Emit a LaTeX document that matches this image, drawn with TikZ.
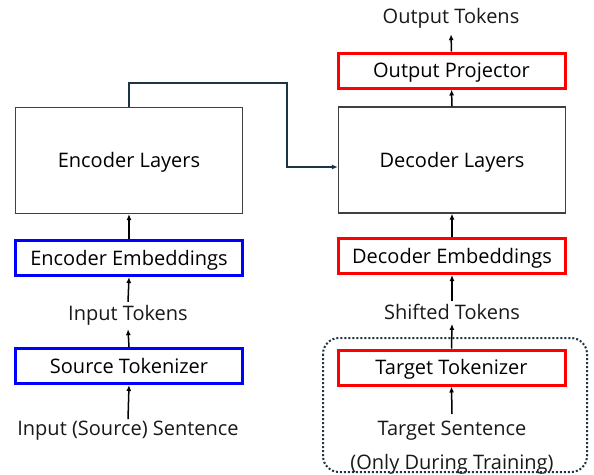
\documentclass[tikz,border=0pt]{standalone}
\usepackage{fontspec}
\setmainfont{Open Sans}
\usetikzlibrary{arrows.meta}
\definecolor{bblue}{RGB}{0,0,255}
\definecolor{rred}{RGB}{255,0,0}
\definecolor{edgegray}{RGB}{64,64,64}
\definecolor{slate}{RGB}{28,52,68}
\tikzset{
  lbl/.style={font=\fontsize{20}{34}\selectfont, text=black!90, inner sep=0pt, align=center},
  boxtext/.style={inner sep=0pt, font=\fontsize{20}{24}\selectfont, text height=16pt, text depth=2pt},
  bigbox/.style={boxtext, draw=edgegray, line width=1.2pt, minimum width=227pt, minimum height=106pt},
  bluebox/.style={boxtext, draw=bblue, line width=3pt, minimum width=227pt, minimum height=35pt},
  redbox/.style={boxtext, draw=rred, line width=3pt, minimum width=227pt, minimum height=35pt},
  arr/.style={line width=1.5pt, -{Latex[length=6pt,width=5pt]}},
}
\begin{document}
\begin{tikzpicture}[x=1pt,y=-1pt]
\useasboundingbox (0,0) rectangle (594,474);
% left column
\node[bigbox] (enc) at (129,160.5) {Encoder Layers};
\node[bluebox] (encemb) at (129,258) {Encoder Embeddings};
\node[lbl] (intok) at (128,315) {Input Tokens};
\node[bluebox] (srctok) at (129,366) {Source Tokenizer};
\node[lbl] (insent) at (128,431) {Input (Source) Sentence};
% right column
\node[lbl] (outtok) at (451,18) {Output Tokens};
\node[redbox] (outproj) at (451.5,70.5) {Output Projector};
\node[bigbox] (dec) at (452,160) {Decoder Layers};
\node[redbox] (decemb) at (452,256) {Decoder Embeddings};
\node[lbl] (shtok) at (452,312) {Shifted Tokens};
\node[redbox] (tgttok) at (451.5,367.5) {Target Tokenizer};
\node[lbl, anchor=north] (tgtsent) at (452,421) {Target Sentence\\(Only During Training)};
% dotted training region
\draw[slate, line width=2pt, dotted, rounded corners=16pt] (323,338) rectangle (587,472);
% arrows
\draw[arr] ([yshift=2pt]insent.north) -- (srctok.south);
\draw[arr] (srctok.north) -- ([yshift=-4pt]intok.south);
\draw[arr] ([yshift=3pt]intok.north) -- (encemb.south);
\draw[arr] (encemb.north) -- (enc.south);
\draw[arr] ([yshift=7pt]tgtsent.north) -- (tgttok.south);
\draw[arr] (tgttok.north) -- ([yshift=-4pt]shtok.south);
\draw[arr] ([yshift=3pt]shtok.north) -- (decemb.south);
\draw[arr] (decemb.north) -- (dec.south);
\draw[arr] (dec.north) -- (outproj.south);
\draw[arr] (outproj.north) -- ([yshift=-6pt]outtok.south);
\draw[slate, line width=1.5pt, -{Latex[length=6pt,width=5pt]}] (enc.north) |- (287,83) |- ([yshift=-7pt]dec.west);
\end{tikzpicture}
\end{document}
